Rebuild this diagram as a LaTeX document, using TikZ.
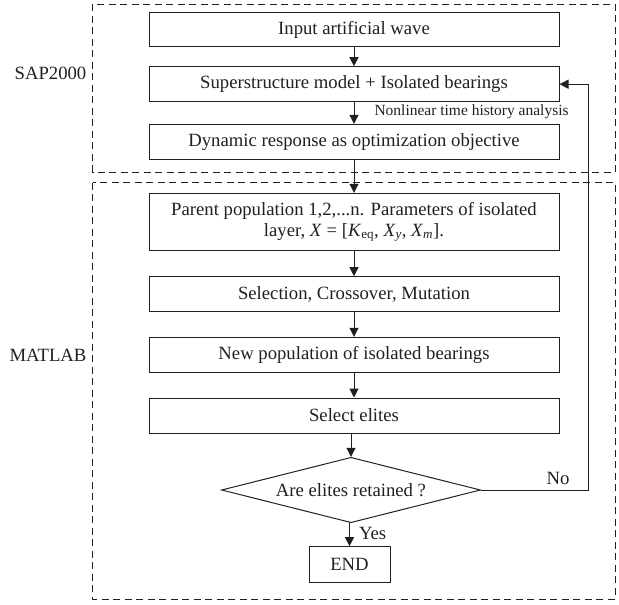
\documentclass[tikz,border=0pt]{standalone}
\usepackage{fontspec}
\setmainfont{Liberation Serif}
\usetikzlibrary{shapes.geometric,arrows.meta}
\definecolor{ink}{HTML}{231F20}
\begin{document}
\begin{tikzpicture}[x=1pt,y=-1pt,
  every node/.style={text=ink, font=\fontsize{18.7}{22}\selectfont},
  box/.style={draw=ink, line width=1pt, minimum width=410pt, minimum height=35pt, inner sep=0pt, align=center},
  arr/.style={draw=ink, line width=1pt, -{Triangle[length=9pt,width=9pt]}},
  region/.style={draw=ink, line width=1pt, dash pattern=on 7pt off 4.5pt},
  lbl/.style={inner sep=0pt}]
\useasboundingbox (0,0) rectangle (619,605);
\draw[region] (92.7,4.3) rectangle (615,172);
\draw[region] (92.5,182.7) rectangle (615,599);
\node[lbl] (sap) at (50.5,73) {SAP2000};
\node[lbl] (mat) at (48,355) {MATLAB};
\node[box, minimum height=34pt] (b1) at (354,29.7) {Input artificial wave};
\node[box] (b2) at (354,84.2) {Superstructure model + Isolated bearings};
\node[box] (b3) at (354,141.8) {Dynamic response as optimization objective};
\node[box, minimum height=57.4pt] (b4) at (354,222) {Parent population 1,2,...n. Parameters of isolated\\[-1pt]layer, \textit{X} = [\textit{K}\textsubscript{eq}, \textit{X}\textsubscript{\textit{y}}, \textit{X}\textsubscript{\textit{m}}].};
\node[box] (b5) at (354,294.2) {Selection, Crossover, Mutation};
\node[box] (b6) at (354,354.8) {New population of isolated bearings};
\node[box] (b7) at (354,415.5) {Select elites};
\node[draw=ink, line width=1pt, diamond, aspect=4, minimum width=259pt, minimum height=65.4pt, inner sep=0pt] (d) at (351,490) {Are elites retained ?};
\node[draw=ink, line width=1pt, minimum width=81pt, minimum height=36pt, inner sep=0pt] (end) at (349.5,564.7) {END};
\draw[arr] (b1) -- (b2);
\draw[arr] (b2) -- (b3) node[lbl, font=\fontsize{15.5}{18}\selectfont, pos=0.45, anchor=west, xshift=20pt] (nl) {Nonlinear time history analysis};
\draw[arr] (b3) -- (b4);
\draw[arr] (b4) -- (b5);
\draw[arr] (b5) -- (b6);
\draw[arr] (b6) -- (b7);
\draw[arr] (b7.south -| d.north) -- (d.north);
\draw[arr] (d.south -| end.north) -- (end.north) node[lbl, pos=0.45, anchor=west, xshift=9pt] (yes) {Yes};
\coordinate (fb) at (588,490);
\draw[arr] (d.east) -- (fb) |- (b2.east);
\node[lbl] (no) at (558,478) {No};
\end{tikzpicture}
\end{document}
